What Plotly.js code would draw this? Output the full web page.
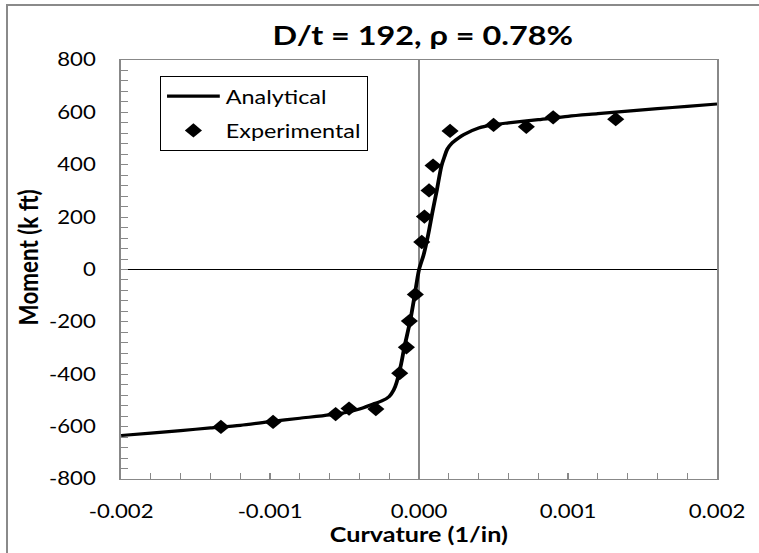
<!DOCTYPE html>
<html>
<head>
<meta charset="utf-8">
<script src="https://cdn.plot.ly/plotly-3.0.1.min.js"></script>
<style>
html,body{margin:0;padding:0;background:#fff;overflow:hidden;}
#wrap{position:relative;width:759px;height:553px;overflow:hidden;background:#fff;}
#chart{width:633px;height:553px;transform:scaleX(1.19905);transform-origin:0 0;}
#frame{position:absolute;left:6px;top:4px;width:820px;height:620px;border:2px solid #8a8a8a;pointer-events:none;}
</style>
</head>
<body>
<div id="wrap"><div id="chart"></div><div id="frame"></div></div>
<script>
// Analytical curve (curvature 1/in, moment k ft)
const analyticalX = [-0.002,-0.0018,-0.0016,-0.0014,-0.0012,-0.001,-0.0008,-0.0006,-0.0005,-0.0004,-0.0003,-0.00025,-0.0002,-0.00017,-0.00015,-0.00012,-0.0001,-0.00006,-0.00003,0,
  0.00003,0.00006,0.00009,0.00012,0.00015,0.00017,0.00019,0.00022,0.00026,0.0003,0.0004,0.0005,0.0006,0.0008,0.001,0.0012,0.0014,0.0016,0.0018,0.002];
const analyticalY = [-634,-625,-615,-605,-595,-581,-568,-555,-547,-533,-512,-502,-485,-460,-430,-360,-300,-197,-100,0,
  55,130,220,305,395,430,460,482,500,515,540,553,560,572,585,595,605,614,623,632];
// Experimental points
const experimentalX = [-0.00133,-0.00098,-0.00056,-0.00047,-0.00029,-0.00013,-0.000085,-0.000065,-0.000025,
  0.000018,0.000036,0.000067,0.000094,0.000208,0.0005,0.00072,0.0009,0.00132];
const experimentalY = [-601,-582,-552,-531,-533,-396,-297,-197,-95,
  105,202,302,397,529,552,545,581,574];
const xTickVals = [-0.002,-0.001,0,0.001,0.002];
const xTickText = ['-0.002','-0.001','0.000','0.001','0.002'];
const yTickVals = [-800,-600,-400,-200,0,200,400,600,800];
const yTickText = ['-800','-600','-400','-200','0','200','400','600','800'];

const font = 'Lato, "Open Sans", sans-serif';
const traces = [
  {x: analyticalX, y: analyticalY, mode: 'lines', name: 'Analytical', legendgroup: 'a',
   line: {color: '#000', width: 3.2, shape: 'spline', smoothing: 0.8}},
  {x: experimentalX, y: experimentalY, mode: 'markers', name: 'Experimental', legendgroup: 'b',
   marker: {symbol: 'diamond', size: 11, color: '#000'}}
];
const layout = {
  width: 633, height: 553,
  margin: {l: 101, r: 35, t: 60, b: 74},
  paper_bgcolor: '#fff', plot_bgcolor: '#fff',
  showlegend: true,
  title: {text: '<b>D/t = 192, ρ = 0.78%</b>', x: 0.557, xanchor: 'center', y: 0.936, yanchor: 'middle',
          font: {family: font, size: 27, color: '#000'}},
  xaxis: {range: [-0.002, 0.002], tickvals: xTickVals, ticktext: xTickText,
          showgrid: false, zeroline: true, zerolinecolor: '#888', zerolinewidth: 1.4,
          showline: true, linecolor: '#888', linewidth: 1.4, mirror: true,
          ticks: 'inside', ticklen: 6, tickcolor: '#888', ticklabelstandoff: 15,
          minor: {dtick: 0.0002, ticks: 'inside', ticklen: 6, tickcolor: '#888', showgrid: false},
          tickfont: {family: font, size: 18.5, color: '#000'}},
  yaxis: {range: [-800, 800], tickvals: yTickVals, ticktext: yTickText,
          showgrid: false, zeroline: true, zerolinecolor: '#000', zerolinewidth: 1,
          showline: true, linecolor: '#888', linewidth: 1.4, mirror: true,
          ticks: 'inside', ticklen: 6, tickcolor: '#888', ticklabelstandoff: 16,
          minor: {dtick: 40, ticks: 'inside', ticklen: 6, tickcolor: '#888', showgrid: false},
          tickfont: {family: font, size: 18.5, color: '#000'}},
  annotations: [
    {text: '<b>Curvature (1/in)</b>', xref: 'paper', yref: 'paper', x: 0.5, y: -0.131,
     xanchor: 'center', yanchor: 'middle', showarrow: false, font: {family: font, size: 21, color: '#000'}},
    {text: '<b>Moment (k ft)</b>', xref: 'paper', yref: 'paper', x: -0.156, y: 0.53, textangle: -90,
     xanchor: 'center', yanchor: 'middle', showarrow: false, font: {family: font, size: 22.4, color: '#000'}}
  ],
  legend: {x: 0.065, y: 0.962, xanchor: 'left', yanchor: 'top',
           bgcolor: '#fff', bordercolor: '#000', borderwidth: 1, itemwidth: 44,
           font: {family: font, size: 19.5, color: '#000'}, tracegroupgap: 6}
};
Plotly.newPlot('chart', traces, layout, {displayModeBar: false, staticPlot: true});
</script>
</body>
</html>
